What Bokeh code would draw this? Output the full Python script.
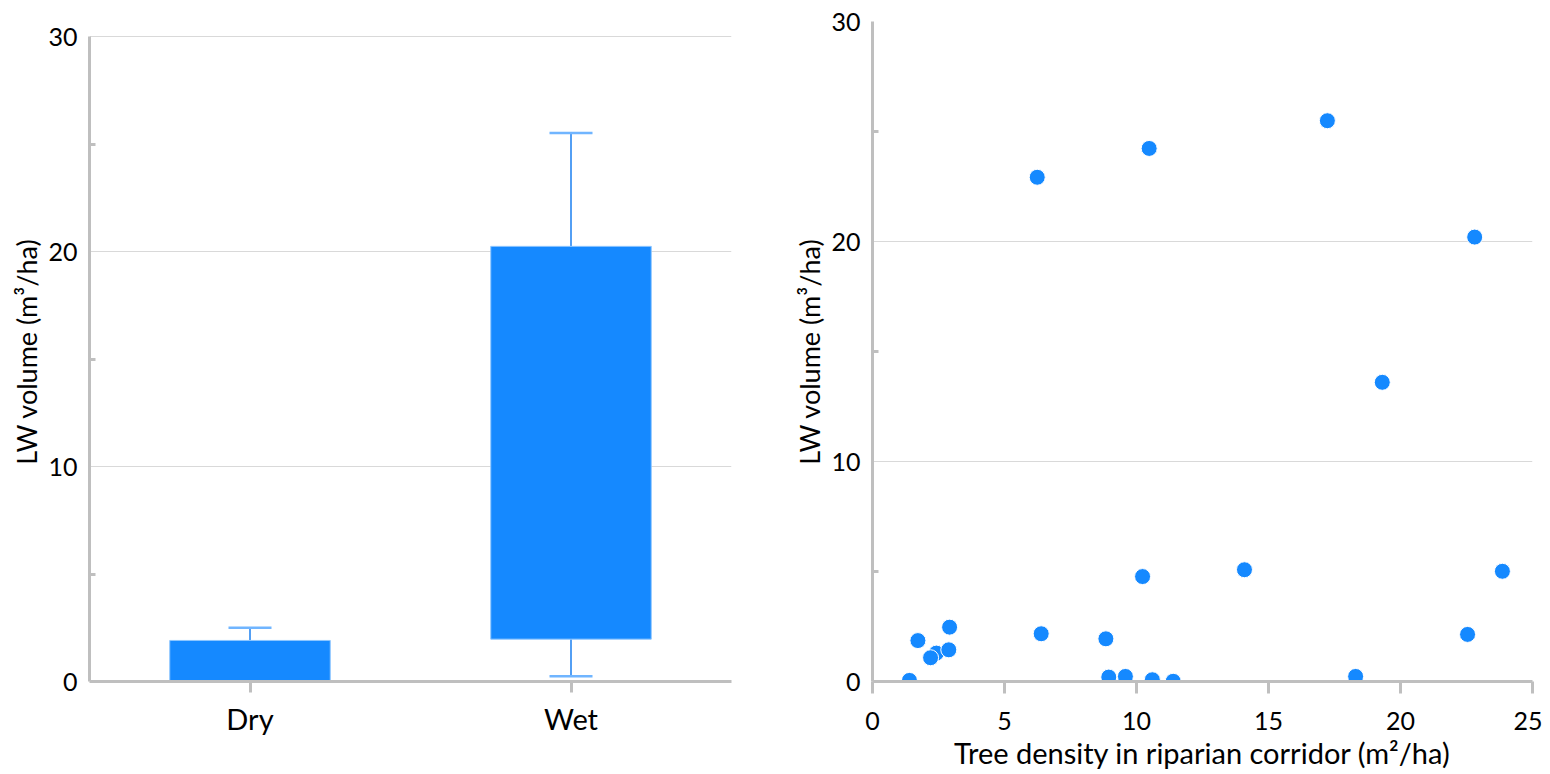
from bokeh.plotting import figure
from bokeh.models import (ColumnDataSource, FactorRange, Range1d, FixedTicker,
                          Whisker, TeeHead)
from bokeh.layouts import row
from bokeh.embed import file_html
from bokeh.resources import INLINE

# ---------------- data ----------------
categories = ["Dry", "Wet"]
box_bottom = [0.0, 1.97]
box_top = [1.91, 20.24]
whisker_low = [0.03, 0.25]
whisker_high = [2.5, 25.51]

tree_density = [1.40, 1.72, 2.42, 2.20, 2.89, 2.92, 6.24, 6.39, 8.84, 8.95, 9.58,
                10.23, 10.48, 10.60, 11.39, 14.09, 17.23, 18.30, 19.31, 22.54,
                22.81, 23.86]
lw_volume = [0.05, 1.86, 1.29, 1.08, 1.44, 2.47, 22.92, 2.17, 1.94, 0.20, 0.23,
             4.77, 24.23, 0.08, 0.01, 5.08, 25.49, 0.23, 13.6, 2.14,
             20.2, 5.01]

y_ticks = [0, 10, 20, 30]
y_minor = [5, 15, 25]
x_ticks = [0, 5, 10, 15, 20, 25]

FONT = "Lato"
BLUE = "#1589FF"
AXIS = "#BFBFBF"
GRID = "#D9D9D9"
H = 772
TOP = 21
FRAME_H = 660


def style(p):
    p.outline_line_color = None
    p.background_fill_color = "white"
    p.border_fill_color = "white"
    for ax in (p.xaxis[0], p.yaxis[0]):
        ax.axis_line_color = AXIS
        ax.axis_line_width = 3
        ax.major_tick_line_color = AXIS
        ax.major_tick_line_width = 3
        ax.minor_tick_line_color = AXIS
        ax.minor_tick_line_width = 3
        ax.major_label_text_font = FONT
        ax.major_label_text_color = "black"
        ax.axis_label_text_font = FONT
        ax.axis_label_text_font_style = "normal"
        ax.axis_label_text_color = "black"
    p.xgrid.grid_line_color = None
    p.ygrid.grid_line_color = GRID
    p.ygrid.grid_line_width = 1
    yax = p.yaxis[0]
    yax.ticker = FixedTicker(ticks=y_ticks, minor_ticks=y_minor)
    yax.major_tick_out = 0
    yax.major_tick_in = 0
    yax.minor_tick_in = 6
    yax.minor_tick_out = 0
    yax.major_label_standoff = 12
    yax.major_label_text_font_size = "25px"
    yax.axis_label = "LW volume (m³/ha)"
    yax.axis_label_text_font_size = "27px"
    yax.axis_label_standoff = 2


# ---------------- left: box chart ----------------
src = ColumnDataSource(dict(cat=categories, bottom=box_bottom, top=box_top,
                            lo=whisker_low, hi=whisker_high))

p1 = figure(width=760, height=H, x_range=FactorRange(*categories, range_padding=0),
            y_range=Range1d(0, 30.7), output_backend="svg",
            toolbar_location=None,
            min_border_left=89, min_border_right=29, min_border_top=TOP,
            min_border_bottom=H - TOP - FRAME_H)
style(p1)
p1.yaxis.bounds = (0, 30)
p1.xaxis.major_tick_out = 11
p1.xaxis.major_tick_in = 0
p1.xaxis.major_label_standoff = 8
p1.xaxis.major_label_text_font_size = "29px"

up = Whisker(base="cat", lower="top", upper="hi", source=src,
             line_color="#1A7FF0", line_width=1.5,
             upper_head=TeeHead(size=43, line_color="#70B5FF", line_width=2.5),
             lower_head=None)
low = Whisker(base="cat", lower="lo", upper="bottom", source=src,
              line_color="#1A7FF0", line_width=1.5,
              lower_head=TeeHead(size=43, line_color="#70B5FF", line_width=2.5),
              upper_head=None)
p1.add_layout(up)
p1.add_layout(low)
p1.vbar(x="cat", bottom="bottom", top="top", width=0.5, source=src,
        fill_color=BLUE, line_color="#8EC6FF", line_width=1)

# ---------------- right: scatter ----------------
p2 = figure(width=782, height=H, x_range=Range1d(0, 25), y_range=Range1d(0, 30),
            output_backend="svg", toolbar_location=None,
            min_border_left=112, min_border_right=10, min_border_top=TOP,
            min_border_bottom=H - TOP - FRAME_H)
style(p2)
p2.xaxis.ticker = FixedTicker(ticks=x_ticks, minor_ticks=[])
p2.xaxis.major_tick_out = 12
p2.xaxis.major_tick_in = 0
p2.xaxis.major_label_standoff = 18
p2.xaxis.major_label_text_font_size = "25px"
p2.xaxis.axis_label = "Tree density in riparian corridor (m²/ha)"
p2.xaxis.axis_label_text_font_size = "29px"
p2.xaxis.axis_label_standoff = 2

p2.scatter(tree_density, lw_volume, size=16, fill_color=BLUE,
           line_color="white", line_width=1)

layout = row(p1, p2)
open("out.html", "w").write(file_html(layout, INLINE))
